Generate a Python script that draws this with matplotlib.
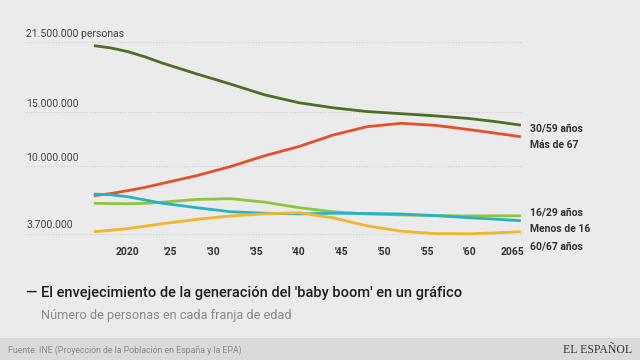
import matplotlib.pyplot as plt
from matplotlib.patches import Rectangle

# datos (millones de personas)
years = [2016, 2018, 2020, 2022, 2024, 2028, 2032, 2036, 2040, 2044, 2048, 2052, 2056, 2060, 2063, 2066]
g30_59 = [21.16, 20.95, 20.6, 20.12, 19.55, 18.55, 17.6, 16.6, 15.87, 15.4, 15.05, 14.85, 14.65, 14.4, 14.12, 13.79]
mas67 = [7.25, 7.45, 7.72, 8.02, 8.38, 9.1, 9.95, 10.95, 11.8, 12.87, 13.65, 13.96, 13.77, 13.37, 13.05, 12.71]
menos16 = [7.40, 7.33, 7.15, 6.85, 6.55, 6.14, 5.76, 5.62, 5.56, 5.62, 5.6, 5.55, 5.4, 5.2, 5.07, 4.93]
g16_29 = [6.54, 6.52, 6.5, 6.54, 6.64, 6.9, 6.97, 6.65, 6.14, 5.76, 5.55, 5.46, 5.4, 5.37, 5.38, 5.39]
g60_67 = [3.91, 4.04, 4.2, 4.42, 4.65, 5.05, 5.37, 5.56, 5.67, 5.2, 4.45, 3.95, 3.73, 3.72, 3.8, 3.91]

grid_vals = [21.5, 15.0, 10.0, 3.7]
grid_labels = ["21.500.000 personas", "15.000.000", "10.000.000", "3.700.000"]
tick_years = [2020, 2025, 2030, 2035, 2040, 2045, 2050, 2055, 2060, 2065]
tick_labels = ["2020", "'25", "'30", "'35", "'40", "'45", "'50", "'55", "'60", "2065"]

series = [
    (g30_59, "#4e6d27", "30/59 años", 128),
    (mas67, "#e5502a", "Más de 67", 145),
    (g16_29, "#8fc43f", "16/29 años", 212),
    (menos16, "#27b3c6", "Menos de 16", 229),
    (g60_67, "#efb729", "60/67 años", 247),
]

plt.rcParams['font.family'] = ['Roboto', 'DejaVu Sans']
bg = "#ebebeb"

fig = plt.figure(figsize=(6.4, 3.6), dpi=100, facecolor=bg)
ax = fig.add_axes([25/640, 1 - 241.5/360, 498/640, (241.5 - 36.6)/360])
ax.set_facecolor(bg)
ax.set_xlim(2007.94, 2066.25)
ax.set_ylim(3.0, 22.0)

for v, lab in zip(grid_vals, grid_labels):
    ax.axhline(v, color="#cfcfcf", lw=0.8, ls=(0, (1, 1.5)), zorder=1)
    ax.annotate(lab, (2007.94, v), xytext=(1, 2.5), textcoords="offset points",
                ha="left", va="bottom", fontsize=7.5, color="#444444")

for vals, col, lab, ypx in series:
    ax.plot(years, vals, color=col, lw=2.0, solid_capstyle="butt",
            solid_joinstyle="round", zorder=3)
    fig.text(530/640, 1 - ypx/360, lab, fontsize=7.5, fontweight="bold",
             color="#333333", ha="left", va="center")

ax.set_xticks(tick_years)
ax.set_xticklabels(tick_labels, fontsize=7.5, fontweight="bold", color="#333333")
ax.set_yticks([])
ax.tick_params(axis="x", length=0, pad=4)
for s in ax.spines.values():
    s.set_visible(False)

fig.text(26/640, 1 - 293/360, "— El envejecimiento de la generación del 'baby boom' en un gráfico",
         fontsize=10.5, fontweight="medium", color="#1e1e1e", ha="left", va="center")
fig.text(41/640, 1 - 316/360, "Número de personas en cada franja de edad",
         fontsize=9.2, color="#8a8a8a", ha="left", va="center")

fig.patches.append(Rectangle((0, 0), 1, 22/360, transform=fig.transFigure,
                             facecolor="#dadada", edgecolor="none", zorder=0))
fig.text(8/640, 1 - 350/360, "Fuente: INE (Proyección de la Población en España y la EPA)",
         fontsize=6.3, color="#8a8a8a", ha="left", va="center")
fig.text(632/640, 1 - 350/360, "EL ESPAÑOL", fontsize=8.5, color="#333333",
         family="Liberation Serif", ha="right", va="center")

fig.savefig("out.png", dpi=100, facecolor=bg)
